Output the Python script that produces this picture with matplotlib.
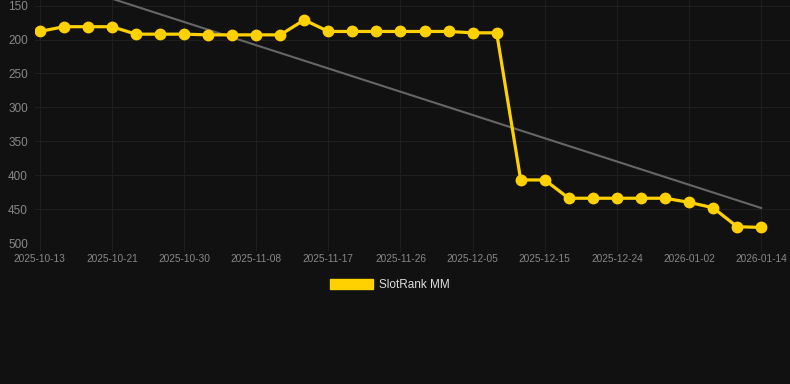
import matplotlib
matplotlib.use("Agg")
import matplotlib.pyplot as plt
import numpy as np
from matplotlib.patches import Patch

plt.rcParams['font.family'] = ['Liberation Sans', 'DejaVu Sans']

tick_labels = ["2025-10-13", "2025-10-21", "2025-10-30", "2025-11-08", "2025-11-17",
               "2025-11-26", "2025-12-05", "2025-12-15", "2025-12-24", "2026-01-02", "2026-01-14"]
ranks = [188, 181, 181, 181, 192, 192, 192, 193, 193, 193, 193, 171, 188, 188, 188,
         188, 188, 188, 190, 190, 407, 407, 434, 434, 434, 434, 434, 440, 448, 476, 477]
series_name = "SlotRank MM"

x = np.arange(len(ranks))
coef = np.polyfit(x, ranks, 1)
trend = np.polyval(coef, x)

bg = "#111111"
fig = plt.figure(figsize=(7.9, 3.84), dpi=100, facecolor=bg)
ax = fig.add_axes([35/790, 141/384, 755/790, 243/384])
ax.set_facecolor(bg)

ax.plot(x, trend, color="#666666", lw=1.5, zorder=2)
ax.plot(x, ranks, color="#FFD100", lw=2.3, marker="o", markersize=7.5, zorder=3)

ax.set_xlim(-0.2, 31.2)
ax.set_ylim(500, 141.6)
ax.set_yticks([150, 200, 250, 300, 350, 400, 450, 500])
ax.set_xticks(np.arange(0, 31, 3))
ax.set_xticklabels(tick_labels)
ax.grid(True, color="#1f1f1f", lw=0.8)
ax.set_axisbelow(True)
for s in ax.spines.values():
    s.set_visible(False)
ax.axhline(500, color="#2b2b2b", lw=0.8, zorder=1)
ax.tick_params(axis='x', colors="#1f1f1f", labelcolor="#888888", labelsize=7.3, length=6, pad=2)
ax.tick_params(axis='y', colors="#1f1f1f", labelcolor="#888888", labelsize=8.5, length=0, pad=5)

fig.legend(handles=[Patch(facecolor="#FFD100", edgecolor="#FFD100", label=series_name)],
           loc="center", bbox_to_anchor=(390/790, 1 - 285/384), frameon=False,
           handlelength=3.6, handleheight=1.0, handletextpad=0.5, labelcolor="#dddddd",
           fontsize=8.5)

fig.savefig("out.png", dpi=100, facecolor=bg)
